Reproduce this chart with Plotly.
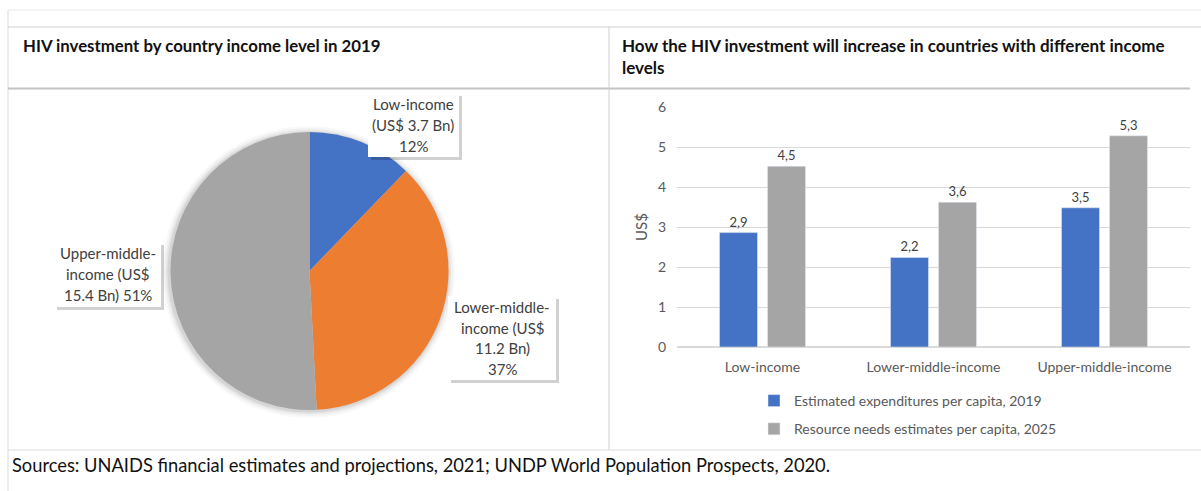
import plotly.graph_objects as go

W, H = 1201, 491

# ---------------- data ----------------
pie_labels = ["Low-income", "Lower-middle-income", "Upper-middle-income"]
pie_values = [3.7, 11.2, 15.4]
pie_colors = ["#4472C4", "#ED7D31", "#A5A5A5"]

bar_categories = ["Low-income", "Lower-middle-income", "Upper-middle-income"]
expenditures_2019 = [2.86, 2.24, 3.48]
needs_2025 = [4.52, 3.62, 5.28]
series_names = ["Estimated expenditures per capita, 2019",
                "Resource needs estimates per capita, 2025"]
y_ticks = [0, 1, 2, 3, 4, 5, 6]

left_title = "HIV investment by country income level in 2019"
right_title = "How the HIV investment will increase in countries with different income<br>levels"
source_text = "Sources: UNAIDS financial estimates and projections, 2021; UNDP World Population Prospects, 2020."

pie_label_lines = [
    ["Low-income", "(US$ 3.7 Bn)", "12%"],
    ["Lower-middle-", "income (US$", "11.2 Bn)", "37%"],
    ["Upper-middle-", "income (US$", "15.4 Bn) 51%"],
]

FONT = "Lato"


def px(x):
    return x / W


def py(y):
    return 1 - y / H


fig = go.Figure()

# Pie
fig.add_trace(go.Pie(
    labels=pie_labels, values=pie_values, sort=False, direction="clockwise",
    rotation=0, marker=dict(colors=pie_colors, line=dict(width=0)),
    textinfo="none", hoverinfo="label+value+percent", showlegend=False,
    domain=dict(x=[px(170), px(449)], y=[py(410), py(132)]),
))

# Bars
fig.add_trace(go.Bar(
    x=bar_categories, y=expenditures_2019, name=series_names[0],
    marker_color="#4472C4", texttemplate="%{y:.1f}", textposition="outside",
    textfont=dict(family=FONT, size=13, color="#404040"), cliponaxis=False,
    legendgroup="a",
))
fig.add_trace(go.Bar(
    x=bar_categories, y=needs_2025, name=series_names[1],
    marker_color="#A5A5A5", texttemplate="%{y:.1f}", textposition="outside",
    textfont=dict(family=FONT, size=13, color="#404040"), cliponaxis=False,
    legendgroup="b",
))

shapes = []
# soft shadow around the pie
for d, a in [(7, 0.025), (5, 0.035), (3, 0.05), (1.5, 0.06)]:
    shapes.append(dict(type="circle", xref="paper", yref="paper", layer="below",
                       x0=px(170 - d - 1), x1=px(449 + d - 1), y0=py(410 + d + 1), y1=py(132 - d + 1),
                       fillcolor=f"rgba(0,0,0,{a})", line=dict(width=0)))

lc = "#d0d0d0"
# table lines
shapes.append(dict(type="line", xref="paper", yref="paper", x0=px(8), x1=px(1201), y0=py(10), y1=py(10), line=dict(color="#e8e8e8", width=1)))
shapes.append(dict(type="line", xref="paper", yref="paper", x0=px(8), x1=px(8), y0=py(10), y1=py(491), line=dict(color="#dcdcdc", width=1)))
shapes.append(dict(type="line", xref="paper", yref="paper", x0=px(8), x1=px(1201), y0=py(27), y1=py(27), line=dict(color=lc, width=1)))
shapes.append(dict(type="line", xref="paper", yref="paper", x0=px(8), x1=px(1190), y0=py(88.5), y1=py(88.5), line=dict(color="#c4c4c4", width=2)))
shapes.append(dict(type="line", xref="paper", yref="paper", x0=px(609), x1=px(609), y0=py(27), y1=py(450), line=dict(color=lc, width=1)))
shapes.append(dict(type="line", xref="paper", yref="paper", x0=px(8), x1=px(1201), y0=py(450), y1=py(450), line=dict(color="#dcdcdc", width=1)))

# pie label boxes
boxes = [(368, 93, 459, 157), (448, 296, 556, 380), (54, 242, 161, 307)]
centers_y = [[104, 125, 146], [307, 328, 348, 369], [253, 274, 295]]
annotations = []
for (x0, y0, x1, y1), lines, ys in zip(boxes, pie_label_lines, centers_y):
    shapes.append(dict(type="rect", xref="paper", yref="paper", layer="above",
                       x0=px(x0 + 3), x1=px(x1 + 3), y0=py(y1 + 3), y1=py(y0 + 3),
                       fillcolor="rgba(0,0,0,0.18)", line=dict(width=0)))
    shapes.append(dict(type="rect", xref="paper", yref="paper", layer="above",
                       x0=px(x0), x1=px(x1), y0=py(y1), y1=py(y0),
                       fillcolor="white", line=dict(width=0)))
    cx = (x0 + x1) / 2
    for t, yy in zip(lines, ys):
        annotations.append(dict(text=t, x=px(cx), y=py(yy), xref="paper", yref="paper",
                                showarrow=False, xanchor="center", yanchor="middle",
                                font=dict(family=FONT, size=15, color="#404040")))

annotations.append(dict(text="<b>" + left_title + "</b>", x=px(21), y=py(45), xref="paper", yref="paper",
                        showarrow=False, xanchor="left", yanchor="middle",
                        font=dict(family=FONT, size=16.8, color="#111111")))
annotations.append(dict(text="<b>" + right_title + "</b>", x=px(620), y=py(56), xref="paper", yref="paper",
                        showarrow=False, xanchor="left", yanchor="middle", align="left",
                        font=dict(family=FONT, size=17, color="#111111")))
annotations.append(dict(text=source_text, x=px(10), y=py(465), xref="paper", yref="paper",
                        showarrow=False, xanchor="left", yanchor="middle",
                        font=dict(family=FONT, size=18.3, color="#111111")))

fig.update_layout(
    width=W, height=H, autosize=False, margin=dict(l=0, r=0, t=0, b=0, pad=0, autoexpand=False),
    paper_bgcolor="white", plot_bgcolor="white",
    separators=",.",
    barmode="group", bargap=0.4386, bargroupgap=0.208,
    shapes=shapes, annotations=annotations,
    xaxis=dict(domain=[px(677), px(1190)], showgrid=False, showline=False, zeroline=False,
               automargin=False, ticklabelstandoff=10,
               tickfont=dict(family=FONT, size=14, color="#595959"), ticks=""),
    yaxis=dict(domain=[py(347), py(107)], range=[0, 6], tickvals=y_ticks, automargin=False,
               showgrid=True, gridcolor="#d9d9d9", gridwidth=1, zeroline=True,
               zerolinecolor="#d9d9d9", showline=False, ticks="", ticklabelstandoff=10,
               tickfont=dict(family=FONT, size=14, color="#595959"),
               title=dict(text="US$", font=dict(family=FONT, size=15, color="#595959"), standoff=6)),
    legend=dict(x=px(754), y=py(385), xanchor="left", yanchor="top", orientation="v",
                font=dict(family=FONT, size=14, color="#595959"), tracegroupgap=7,
                bgcolor="rgba(0,0,0,0)", itemclick=False),
    showlegend=True,
)

fig.write_html("out.html", config={"displayModeBar": False},
               post_script="document.body.style.margin='0';document.body.style.overflow='hidden';")
